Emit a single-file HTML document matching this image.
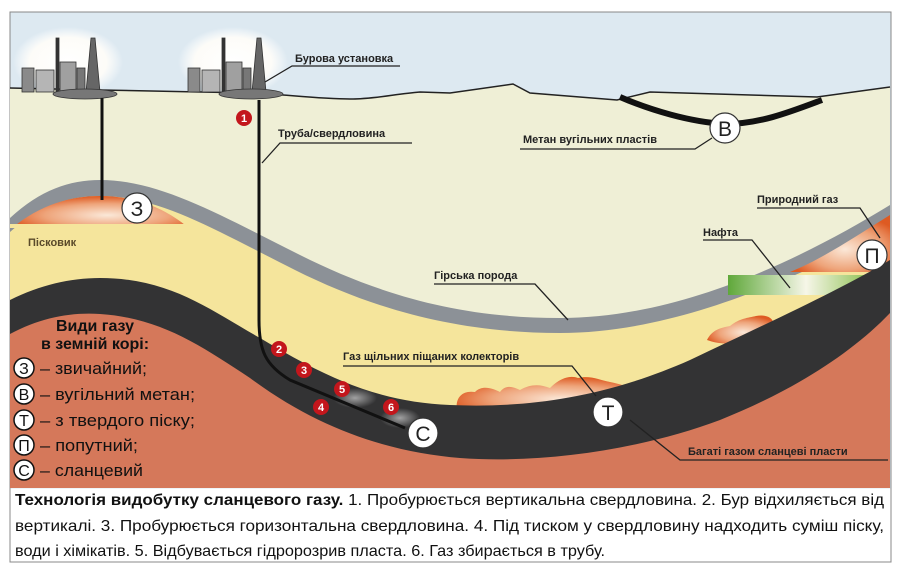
<!DOCTYPE html>
<html><head><meta charset="utf-8"><style>
html,body{margin:0;padding:0;background:#fff;}
body{width:913px;height:570px;overflow:hidden;position:relative;font-family:"Liberation Sans",sans-serif;}
</style></head><body>
<svg width="913" height="570" viewBox="0 0 913 570" style="position:absolute;left:0;top:0">
<defs>
<radialGradient id="og" cx="0.55" cy="0.6" r="0.6"><stop offset="0" stop-color="#fbe8d8"/><stop offset="0.6" stop-color="#eea47a"/><stop offset="1" stop-color="#de5a22"/></radialGradient>
<radialGradient id="cl" cx="0.5" cy="0.5" r="0.5"><stop offset="0" stop-color="#fff"/><stop offset="0.7" stop-color="#fdfcf8"/><stop offset="1" stop-color="#fff" stop-opacity="0"/></radialGradient>
<linearGradient id="gr" x1="0" x2="1"><stop offset="0" stop-color="#5fa83a"/><stop offset="0.55" stop-color="#f6f6e8"/><stop offset="1" stop-color="#8cc050"/></linearGradient>
<radialGradient id="gl" cx="0.5" cy="0.5" r="0.5"><stop offset="0" stop-color="#fff" stop-opacity="0.9"/><stop offset="1" stop-color="#fff" stop-opacity="0"/></radialGradient>
</defs>
<rect x="10" y="12" width="881" height="550" fill="#fff" stroke="#888" stroke-width="1"/>
<rect x="10.5" y="12.5" width="880" height="476" fill="#dde9f1"/>
<ellipse cx="68" cy="62" rx="55" ry="35" fill="url(#cl)"/>
<ellipse cx="233" cy="62" rx="55" ry="35" fill="url(#cl)"/>
<path d="M10,88 L100,90 L200,92 L255,93 C290,95 320,99 350,99 C375,99 395,94 420,92 L450,93 L513,84 L530,93 L617,100 L650,92 L817,97 L890,87 L890,488 L10,488Z" fill="#efefd6"/>
<path d="M10,88 L100,90 L200,92 L255,93 C290,95 320,99 350,99 C375,99 395,94 420,92 L450,93 L513,84 L530,93 L617,100 L650,92 L817,97 L890,87" fill="none" stroke="#222" stroke-width="1.5"/>
<path d="M620,97 C650,110 690,122 725,124 C760,124 790,112 822,100" fill="none" stroke="#111" stroke-width="6"/>
<path d="M10,218 C40,190 70,180 100,180 C160,180 220,215 300,255 C380,295 460,318 560,318 C680,318 800,260 890,205 L890,488 L10,488Z" fill="#8c9197"/>
<path d="M10,232 C40,205 70,196 100,196 C160,196 215,230 295,270 C375,310 460,333 560,333 C680,333 800,275 890,230 L890,488 L10,488Z" fill="#f5e59c"/>
<path d="M12,228 C40,205 70,196 100,196 C130,196 160,205 185,225 Z" fill="url(#og)"/>
<rect x="10" y="224" width="180" height="4" fill="#f5e59c"/>
<path d="M790,272 C820,260 850,240 890,215 L890,272 Z" fill="url(#og)"/>
<path d="M728,275 L870,275 L860,295 L728,295 Z" fill="url(#gr)"/>
<path d="M707,340 C712,330 720,328 730,326 C740,318 748,318 756,316 C766,314 775,318 773,326 C766,332 755,332 748,338 C738,345 720,345 707,340Z" fill="url(#og)"/>
<path d="M457,410 C455,398 462,390 475,392 C482,385 492,388 500,392 C505,385 512,386 520,390 C530,384 540,384 550,388 C560,378 570,375 578,378 C590,375 600,380 610,382 C625,385 640,390 645,402 L645,412 L457,414Z" fill="url(#og)"/>
<path d="M10,300 C40,285 70,278 100,278 C170,278 210,310 260,338 C330,380 380,402 450,405 C520,408 600,400 690,360 C770,322 840,290 890,260 L890,488 L10,488Z" fill="#333334"/>
<path d="M10,334 C40,318 70,312 100,314 C160,318 200,345 250,378 C320,430 390,452 460,458 C540,464 640,450 720,420 C790,392 850,355 890,313 L890,488 L10,488Z" fill="#d5785a"/>
<ellipse cx="355" cy="398" rx="22" ry="10" fill="url(#gl)" opacity="0.6"/>
<ellipse cx="400" cy="418" rx="20" ry="10" fill="url(#gl)" opacity="0.6"/>
<g fill="#555" stroke="#333" stroke-width="0.8">
<g id="rig">
<rect x="22" y="68" width="12" height="24" fill="#8a8a8a"/>
<rect x="36" y="70" width="18" height="22" fill="#b5b5b5"/>
<rect x="56" y="38" width="3" height="54" fill="#333"/>
<rect x="60" y="62" width="16" height="30" fill="#a0a0a0"/>
<rect x="77" y="68" width="8" height="24" fill="#777"/>
<path d="M86,92 L91,38 L95,38 L100,92Z" fill="#666"/>
<ellipse cx="85" cy="94" rx="32" ry="5" fill="#777"/>
</g>
<use href="#rig" x="166"/>
</g>
<line x1="102" y1="98" x2="102" y2="200" stroke="#111" stroke-width="3"/>
<path d="M259,100 L259,320 C259,350 265,365 290,380 L405,428" fill="none" stroke="#111" stroke-width="3"/>
<g fill="none" stroke="#222" stroke-width="1.3">
<path d="M265,82 L292,66 L400,66"/>
<path d="M262,163 L280,143 L412,143"/>
<path d="M520,149 L695,149 L712,138"/>
<path d="M757,208 L860,208 L880,238"/>
<path d="M703,240 L752,240 L790,288"/>
<path d="M434,284 L535,284 L568,320"/>
<path d="M343,366 L572,366 L596,396"/>
<path d="M630,420 L680,460 L888,460"/>
</g>
<g font-family="Liberation Sans,sans-serif" font-weight="bold" font-size="11" fill="#222">
<text x="295" y="62">Бурова установка</text>
<text x="278" y="137">Труба/свердловина</text>
<text x="523" y="143">Метан вугільних пластів</text>
<text x="757" y="203">Природний газ</text>
<text x="703" y="236">Нафта</text>
<text x="434" y="279">Гірська порода</text>
<text x="343" y="360">Газ щільних піщаних колекторів</text>
<text x="688" y="455">Багаті газом сланцеві пласти</text>
<text x="28" y="246" fill="#5a4a2a">Пісковик</text>
</g>
<g fill="#fff" stroke="#333" stroke-width="1.2" font-family="Liberation Sans,sans-serif" font-size="21" text-anchor="middle">
<circle cx="137" cy="208" r="15"/><text x="137" y="216" stroke="none" fill="#222">З</text>
<circle cx="725" cy="128" r="15"/><text x="725" y="136" stroke="none" fill="#222">В</text>
<circle cx="608" cy="412" r="15"/><text x="608" y="420" stroke="none" fill="#222">Т</text>
<circle cx="872" cy="255" r="15"/><text x="872" y="263" stroke="none" fill="#222">П</text>
<circle cx="423" cy="433" r="15"/><text x="423" y="441" stroke="none" fill="#222">С</text>
</g>
<g font-family="Liberation Sans,sans-serif" font-weight="bold" font-size="11" text-anchor="middle">
<g fill="#c3161c"><circle cx="244" cy="118" r="8"/><circle cx="279" cy="349" r="8"/><circle cx="304" cy="370" r="8"/><circle cx="342" cy="389" r="8"/><circle cx="321" cy="407" r="8"/><circle cx="391" cy="407" r="8"/></g>
<g fill="#fff"><text x="244" y="122">1</text><text x="279" y="353">2</text><text x="304" y="374">3</text><text x="342" y="393">5</text><text x="321" y="411">4</text><text x="391" y="411">6</text></g>
</g>
<g font-family="Liberation Sans,sans-serif" fill="#111">
<text x="95" y="331" font-size="16" font-weight="bold" text-anchor="middle">Види газу</text>
<text x="95" y="349" font-size="16" font-weight="bold" text-anchor="middle">в земній корі:</text>
<g font-size="17">
<circle cx="24" cy="368" r="10" fill="#fff" stroke="#111" stroke-width="1.5"/><text x="24" y="374" text-anchor="middle" font-size="16">З</text><text x="40" y="374" textLength="107" lengthAdjust="spacingAndGlyphs">– звичайний;</text>
<circle cx="24" cy="394" r="10" fill="#fff" stroke="#111" stroke-width="1.5"/><text x="24" y="400" text-anchor="middle" font-size="16">В</text><text x="40" y="400" textLength="155" lengthAdjust="spacingAndGlyphs">– вугільний метан;</text>
<circle cx="24" cy="420" r="10" fill="#fff" stroke="#111" stroke-width="1.5"/><text x="24" y="426" text-anchor="middle" font-size="16">Т</text><text x="40" y="426" textLength="155" lengthAdjust="spacingAndGlyphs">– з твердого піску;</text>
<circle cx="24" cy="445" r="10" fill="#fff" stroke="#111" stroke-width="1.5"/><text x="24" y="451" text-anchor="middle" font-size="16">П</text><text x="40" y="451" textLength="98" lengthAdjust="spacingAndGlyphs">– попутний;</text>
<circle cx="24" cy="470" r="10" fill="#fff" stroke="#111" stroke-width="1.5"/><text x="24" y="476" text-anchor="middle" font-size="16">С</text><text x="40" y="476" textLength="103" lengthAdjust="spacingAndGlyphs">– сланцевий</text>
</g></g>
<g font-family="Liberation Sans,sans-serif" font-size="16" fill="#111">
<text x="15" y="505" textLength="869" lengthAdjust="spacingAndGlyphs"><tspan font-weight="bold">Технологія видобутку сланцевого газу.</tspan> 1. Пробурюється вертикальна свердловина. 2. Бур відхиляється від</text>
<text x="15" y="531" textLength="869" lengthAdjust="spacingAndGlyphs">вертикалі. 3. Пробурюється горизонтальна свердловина. 4. Під тиском у свердловину надходить суміш піску,</text>
<text x="15" y="556" textLength="590" lengthAdjust="spacingAndGlyphs">води і хімікатів. 5. Відбувається гідророзрив пласта. 6. Газ збирається в трубу.</text>
</g>
</svg>
</body></html>
